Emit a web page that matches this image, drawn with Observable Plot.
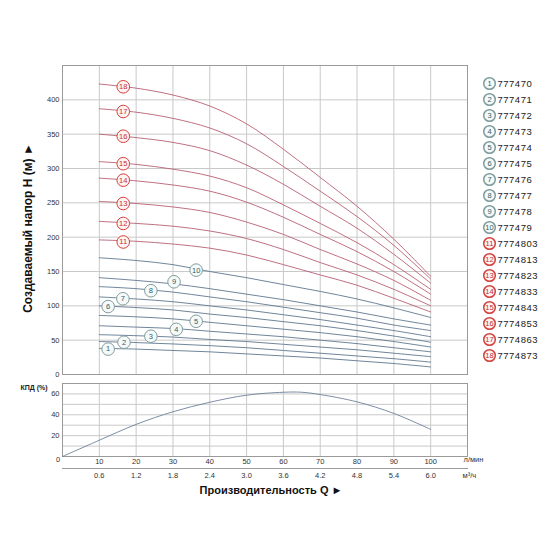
<!DOCTYPE html>
<html><head><meta charset="utf-8">
<script src="https://cdn.jsdelivr.net/npm/d3@7"></script>
<script src="https://cdn.jsdelivr.net/npm/@observablehq/plot@0.6"></script>
<style>
body{margin:0;background:#fff;font-family:"Liberation Sans",Arial,sans-serif;}
#wrap{position:relative;width:560px;height:560px;background:#fff;overflow:hidden}
#wrap svg{position:absolute;font-family:"Liberation Sans",Arial,sans-serif;background:transparent}
#wrap svg.legend g[aria-label="text"]:last-of-type text{letter-spacing:0.5px}
</style></head><body><div id="wrap"></div>
<script>
// Flow (л/мин) where head values are read
const flow = [10, 20, 30, 40, 50, 60, 70, 80, 90, 100];
const codes = ["777470","777471","777472","777473","777474","777475","777476","777477","777478","777479",
  "7774803","7774813","7774823","7774833","7774843","7774853","7774863","7774873"];
// Head H (м) for each pump
const h1  = [38, 37, 35, 33, 30, 27, 24, 20, 16, 11];
const h2  = [48, 46.5, 44.5, 42, 39, 35, 31, 27, 23, 18];
const h3  = [58, 56.5, 54.5, 51, 48, 44, 40, 36, 31, 26];
const h4  = [71, 69, 67, 63, 59, 55, 50, 45, 39, 33];
const h5  = [86, 84, 81, 76, 71, 66, 61, 55, 48, 40];
const h6  = [100, 97.5, 94, 88, 83, 77, 71, 64, 56, 47];
const h7  = [113, 110, 106, 100, 94, 87, 80, 72, 64, 55];
const h8  = [128, 125, 120, 113, 106, 98, 90, 82, 72, 64];
const h9  = [141, 137, 132, 125, 117, 109, 100, 91, 81, 72];
const h10 = [170, 166, 160, 150, 141, 131, 121, 110, 97, 83];
const h11 = [196, 194, 190, 184, 174, 160, 145, 130, 111, 91];
const h12 = [223, 220, 216, 209, 198, 182, 163, 145, 124, 100];
const h13 = [252, 249, 244, 236, 222, 204, 182, 161, 137, 108];
const h14 = [286, 282, 276, 267, 251, 229, 204, 179, 150, 117];
const h15 = [310, 306, 299, 289, 272, 247, 220, 192, 160, 124];
const h16 = [350, 345, 338, 326, 305, 277, 245, 213, 175, 133];
const h17 = [387, 382, 373, 359, 336, 303, 267, 230, 188, 139];
const h18 = [423, 417, 407, 391, 365, 328, 287, 245, 197, 143];
// Curve label positions
const labelQ = [12.4, 16.7, 24, 30.9, 36.3, 12.4, 16.4, 24, 30.3, 36.3, 16.5, 16.5, 16.5, 16.5, 16.5, 16.5, 16.5, 16.5];
const labelH = [37, 47, 55.7, 65.8, 77.5, 99, 110.3, 122, 135, 152, 193, 220, 249, 283, 307, 347, 383, 419];
// Efficiency (КПД, %)
const effQ = [0, 10, 20, 30, 40, 50, 60, 65, 70, 80, 90, 100];
const effV = [0, 15.6, 30.8, 42.9, 52, 58.8, 61.6, 61.6, 59.4, 52.4, 41.3, 26];
// Ticks
const xTicks = [10, 20, 30, 40, 50, 60, 70, 80, 90, 100];
const m3Labels = ["0.6","1.2","1.8","2.4","3.0","3.6","4.2","4.8","5.4","6.0"];
const headTicks = [0, 50, 100, 150, 200, 250, 300, 350, 400];
const effTicks = [20, 40, 60];
const effGrid = [10, 20, 30, 40, 50, 60];

const RED = "#b4566a", BLUE = "#566f88";
const RED_LBL = "#d2413c", RED_TXT = "#c3302c", RED_FILL = "#fff2f2";
const BLUE_LBL = "#7f9c9c", BLUE_TXT = "#2f5d64", BLUE_FILL = "#f6f9f9";
const GRID = "#c9c9c9", FRAME = "#9a9a9a";

const series = [h1,h2,h3,h4,h5,h6,h7,h8,h9,h10,h11,h12,h13,h14,h15,h16,h17,h18];
const rows = series.flatMap((hs, i) => hs.map((h, j) => ({id: i + 1, q: flow[j], h, red: i >= 10})));
const labels = labelQ.map((q, i) => ({id: i + 1, q, h: labelH[i], red: i >= 10}));
const legend = codes.map((c, i) => ({id: i + 1, code: c, red: i >= 10}));
const eff = effQ.map((q, i) => ({q, v: effV[i]}));

const font = {fontFamily: "'Liberation Sans',Arial,sans-serif", fontSize: "7.5px", color: "#333", background: "transparent"};
const wrap = document.getElementById("wrap");

const topPlot = Plot.plot({
  width: 470, height: 380, marginLeft: 62, marginRight: 3, marginTop: 65, marginBottom: 6,
  style: font,
  x: {domain: [0, 110], axis: null},
  y: {domain: [0, 450], axis: null},
  color: {type: "identity"},
  marks: [
    Plot.gridX(xTicks, {stroke: GRID, strokeOpacity: 1}),
    Plot.gridY(headTicks.slice(1), {stroke: GRID, strokeOpacity: 1}),
    Plot.frame({stroke: FRAME}),
    Plot.axisY(headTicks, {tickSize: 0, tickPadding: 3, label: null, fontSize: 7.5}),
    Plot.line(rows, {x: "q", y: "h", z: "id", stroke: d => d.red ? RED : BLUE, curve: "catmull-rom", strokeWidth: 0.85}),
    Plot.dot(labels, {x: "q", y: "h", r: 6.3, fill: d => d.red ? RED_FILL : BLUE_FILL, stroke: d => d.red ? RED_LBL : BLUE_LBL, strokeWidth: 1}),
    Plot.text(labels, {x: "q", y: "h", text: "id", fill: d => d.red ? RED_TXT : BLUE_TXT, fontSize: 7.5}),
    Plot.text(["Создаваемый напор H (м) ►"], {frameAnchor: "left", textAnchor: "middle", dx: -34, dy: 8, rotate: -90, fontWeight: "bold", fontSize: 12, fill: "#111"})
  ]
});
topPlot.style.left = "0px"; topPlot.style.top = "0px";
wrap.appendChild(topPlot);

const legendPlot = Plot.plot({
  width: 90, height: 380, marginLeft: 19, marginRight: 0, marginTop: 60, marginBottom: 10,
  className: "legend",
  style: font,
  x: {axis: null},
  y: {type: "point", domain: codes, range: [70, 367], axis: null},
  color: {type: "identity"},
  marks: [
    Plot.dot(legend, {y: "code", frameAnchor: "left", r: 5.8, fill: d => d.red ? RED_FILL : BLUE_FILL, stroke: d => d.red ? RED_LBL : BLUE_LBL}),
    Plot.text(legend, {y: "code", frameAnchor: "left", textAnchor: "middle", text: "id", fill: d => d.red ? RED_TXT : BLUE_TXT, fontSize: 7.5}),
    Plot.text(legend, {y: "code", frameAnchor: "left", dx: 8, textAnchor: "start", text: "code", fill: "#222", fontSize: 9.5})
  ]
});
legendPlot.classList.add("legend");
legendPlot.style.left = "470px"; legendPlot.style.top = "0px";
wrap.appendChild(legendPlot);

const bottomPlot = Plot.plot({
  width: 560, height: 180, marginLeft: 62, marginRight: 93, marginTop: 3, marginBottom: 104,
  style: font,
  x: {domain: [0, 110], axis: null},
  y: {domain: [0, 70], axis: null},
  marks: [
    Plot.gridX(xTicks, {stroke: GRID, strokeOpacity: 1}),
    Plot.gridY(effGrid, {stroke: GRID, strokeOpacity: 1}),
    Plot.frame({stroke: FRAME}),
    Plot.axisY(effTicks, {tickSize: 0, tickPadding: 3, label: null, fontSize: 7.5}),
    Plot.axisX(xTicks, {tickSize: 0, tickPadding: 2, label: null, fontSize: 7.5}),
    Plot.text(["0"], {frameAnchor: "bottom-left", textAnchor: "middle", dx: -4.5, dy: 5.5, fontSize: 7.5, fill: "#333"}),
    Plot.frame({anchor: "bottom", dy: 12, stroke: FRAME}),
    Plot.text(xTicks, {x: d => d, text: (d, i) => m3Labels[i], frameAnchor: "bottom", dy: 21, fontSize: 7.5, fill: "#333"}),
    Plot.text(["л/мин"], {frameAnchor: "bottom-right", dx: -4, dy: 5.5, textAnchor: "start", fontSize: 7.5, fill: "#333"}),
    Plot.text(["м³/ч"], {frameAnchor: "bottom-right", dx: -5, dy: 21, textAnchor: "start", fontSize: 7.5, fill: "#333"}),
    Plot.line(eff, {x: "q", y: "v", stroke: "#667a95", curve: "catmull-rom", strokeWidth: 0.85}),
    Plot.text(["КПД (%)"], {frameAnchor: "top-left", dx: -42, dy: 2, textAnchor: "start", fontSize: 7, fontWeight: "bold", fill: "#222"}),
    Plot.text(["Производительность Q ►"], {frameAnchor: "bottom", dx: 6, dy: 37, fontSize: 11, fontWeight: "bold", fill: "#111"})
  ]
});
bottomPlot.style.left = "0px"; bottomPlot.style.top = "380px";
wrap.appendChild(bottomPlot);
</script>
</body></html>
